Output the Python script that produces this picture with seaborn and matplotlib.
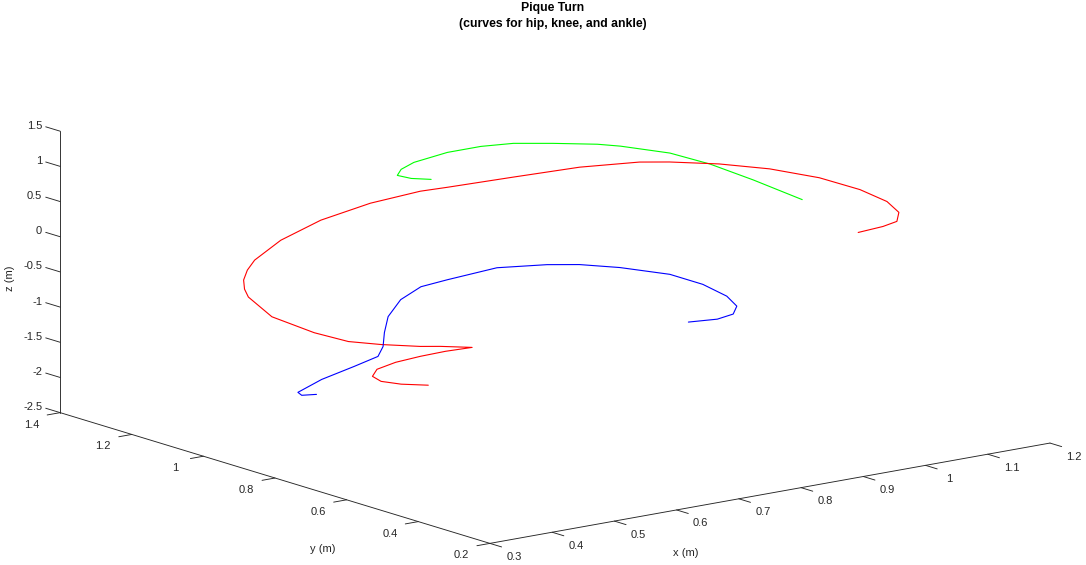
import copy
import numpy as np
import matplotlib
matplotlib.use("Agg")
import matplotlib.pyplot as plt
import matplotlib.transforms as mtransforms
import seaborn as sns
from mpl_toolkits.mplot3d import proj3d

sns.set_theme(style="white")
plt.rcParams["font.family"] = ["Liberation Sans", "DejaVu Sans"]
plt.rcParams["axes.unicode_minus"] = False

green_x = [0.632, 0.615, 0.611, 0.635, 0.671, 0.738, 0.792, 0.835, 0.875, 0.917, 0.934, 0.961, 0.965, 0.956, 0.940]
green_y = [0.941, 0.967, 0.999, 1.030, 1.057, 1.080, 1.080, 1.064, 1.023, 0.972, 0.937, 0.846, 0.741, 0.605, 0.440]
green_z = [1.0, 1.0, 1.0, 1.0, 1.0, 1.0, 1.0, 1.0, 1.0, 1.0, 1.0, 1.0, 1.0, 1.0, 1.0]

red_x = [0.670, 0.646, 0.635, 0.643, 0.671, 0.713, 0.758, 0.800, 0.840, 0.788, 0.744, 0.664, 0.594, 0.542,
         0.482, 0.477, 0.476, 0.482, 0.507, 0.536, 0.605, 0.689, 0.772, 0.839, 0.856, 0.933, 1.010, 1.064,
         1.083, 1.115, 1.138, 1.147, 1.137, 1.113, 1.089, 1.057, 1.026, 0.981]
red_y = [1.015, 1.049, 1.086, 1.124, 1.160, 1.181, 1.190, 1.193, 1.188, 1.186, 1.166, 1.136, 1.106, 1.111,
         1.125, 1.182, 1.191, 1.204, 1.237, 1.267, 1.314, 1.348, 1.354, 1.331, 1.285, 1.235, 1.183, 1.110,
         1.059, 0.976, 0.875, 0.752, 0.621, 0.504, 0.429, 0.379, 0.364, 0.355]
red_z = [-2.1, -2.1, -2.1, -2.1, -2.1, -2.1, -2.1, -2.1, -2.1, -2.0, -1.9, -1.7, -1.5, -1.3,
         -1.0, -0.8, -0.7, -0.6, -0.55, -0.5, -0.4, -0.3, -0.2, -0.1, 0.0, 0.1, 0.2, 0.3,
         0.35, 0.4, 0.45, 0.5, 0.55, 0.6, 0.6, 0.6, 0.6, 0.6]

blue_x = [0.503, 0.485, 0.491, 0.558, 0.622, 0.668, 0.671, 0.672, 0.682, 0.716, 0.756, 0.806, 0.896, 0.957,
          0.990, 1.021, 1.049, 1.049, 1.034, 1.011, 0.981, 0.948, 0.909]
blue_y = [1.037, 1.047, 1.068, 1.118, 1.139, 1.152, 1.143, 1.141, 1.148, 1.172, 1.185, 1.198, 1.216, 1.182,
          1.149, 1.090, 0.999, 0.907, 0.814, 0.746, 0.704, 0.691, 0.704]
blue_z = [-2.0, -2.0, -2.0, -2.0, -1.95, -1.9, -1.75, -1.55, -1.35, -1.2, -1.1, -1.1, -1.1, -1.1,
          -1.1, -1.1, -1.1, -1.1, -1.1, -1.1, -1.1, -1.1, -1.1]

x_ticks = [0.3, 0.4, 0.5, 0.6, 0.7, 0.8, 0.9, 1.0, 1.1, 1.2]
y_ticks = [0.2, 0.4, 0.6, 0.8, 1.0, 1.2, 1.4]
z_ticks = [-2.5, -2.0, -1.5, -1.0, -0.5, 0.0, 0.5, 1.0, 1.5]

W, H = 1086, 565
AX_COL = "#262626"
fig = plt.figure(figsize=(W / 100, H / 100), dpi=100)
fig.patch.set_facecolor("white")
ax = fig.add_axes([-0.50295, -0.53522, 2.0, 2.0], projection="3d")
ax.set_proj_type("ortho")
ax.view_init(elev=13.5, azim=-127.5)
ax.set_box_aspect((1, 1, 0.41), zoom=0.893)

for xs, ys, zs, c in [(green_x, green_y, green_z, (0.0, 1.0, 0.0)),
                      (red_x, red_y, red_z, (1.0, 0.0, 0.0)),
                      (blue_x, blue_y, blue_z, (0.0, 0.0, 1.0))]:
    ax.plot(xs, ys, zs, color=c, lw=0.8)

ax.set_xlim(x_ticks[0], x_ticks[-1])
ax.set_ylim(y_ticks[0], y_ticks[-1])
ax.set_zlim(z_ticks[0], z_ticks[-1])
ax.set_xticks(x_ticks)
ax.set_yticks(y_ticks)
ax.set_zticks(z_ticks)

# z ticks point along +y (outward), like the reference
try:
    info = copy.deepcopy(type(ax.zaxis)._AXINFO)
    info["z"]["tickdir"] = 1
    ax.zaxis._AXINFO = info
except Exception:
    pass

for a, fin, fout in ((ax.xaxis, 0.34, 0.0), (ax.yaxis, 0.29, 0.0), (ax.zaxis, 0.0, 0.42)):
    a.set_major_formatter(matplotlib.ticker.NullFormatter())
    a.set_pane_color((1, 1, 1, 0))
    a.pane.set_edgecolor((1, 1, 1, 0))
    a.line.set_color(AX_COL)
    a.line.set_linewidth(0.65)
    a._axinfo["tick"]["inward_factor"] = fin
    a._axinfo["tick"]["outward_factor"] = fout
    a._axinfo["tick"]["linewidth"] = {True: 0.65, False: 0.5}
    a._axinfo["tick"]["color"] = AX_COL
ax.grid(False)
ax.tick_params(axis="both", colors=AX_COL, labelsize=8)
ax.tick_params(axis="z", colors=AX_COL, labelsize=8)
ax.set_facecolor((1, 1, 1, 0))

# tick labels: tick positions projected through the 3D axes, then a fixed pixel offset
fig.canvas.draw()
M = ax.get_proj()
pix = mtransforms.IdentityTransform()

def tick_px(x, y, z):
    px, py, _ = proj3d.proj_transform(np.array([x]), np.array([y]), np.array([z]), M)
    return ax.transData.transform((px[0], py[0]))

for v in x_ticks:
    p = tick_px(v, y_ticks[0], z_ticks[0])
    fig.text(p[0] + 24.0, p[1] - 13.5, "%g" % v, transform=pix,
             ha="center", va="center", fontsize=8, color=AX_COL)
for v in y_ticks:
    p = tick_px(x_ticks[0], v, z_ticks[0])
    fig.text(p[0] - 28.5, p[1] - 12.0, "%g" % v, transform=pix,
             ha="center", va="center", fontsize=8, color=AX_COL)
for v in z_ticks:
    p = tick_px(x_ticks[0], y_ticks[-1], v)
    fig.text(p[0] - 18.0, p[1] + 5.5, "%g" % v, transform=pix,
             ha="right", va="center", fontsize=8, color=AX_COL)

fig.text(553 / W, 1 - 8.5 / H, "Pique Turn", ha="center", va="center",
         fontsize=8.8, fontweight="bold", color="#000000")
fig.text(553 / W, 1 - 24.5 / H, "(curves for hip, knee, and ankle)", ha="center", va="center",
         fontsize=8.8, fontweight="bold", color="#000000")
fig.text(10 / W, 1 - 278 / H, "z (m)", rotation=90, ha="center", va="center", fontsize=8, color=AX_COL)
fig.text(322.7 / W, 1 - 549 / H, "y (m)", ha="center", va="center", fontsize=8, color=AX_COL)
fig.text(686 / W, 1 - 553 / H, "x (m)", ha="center", va="center", fontsize=8, color=AX_COL)

fig.savefig("out.png", dpi=100, facecolor="white")
